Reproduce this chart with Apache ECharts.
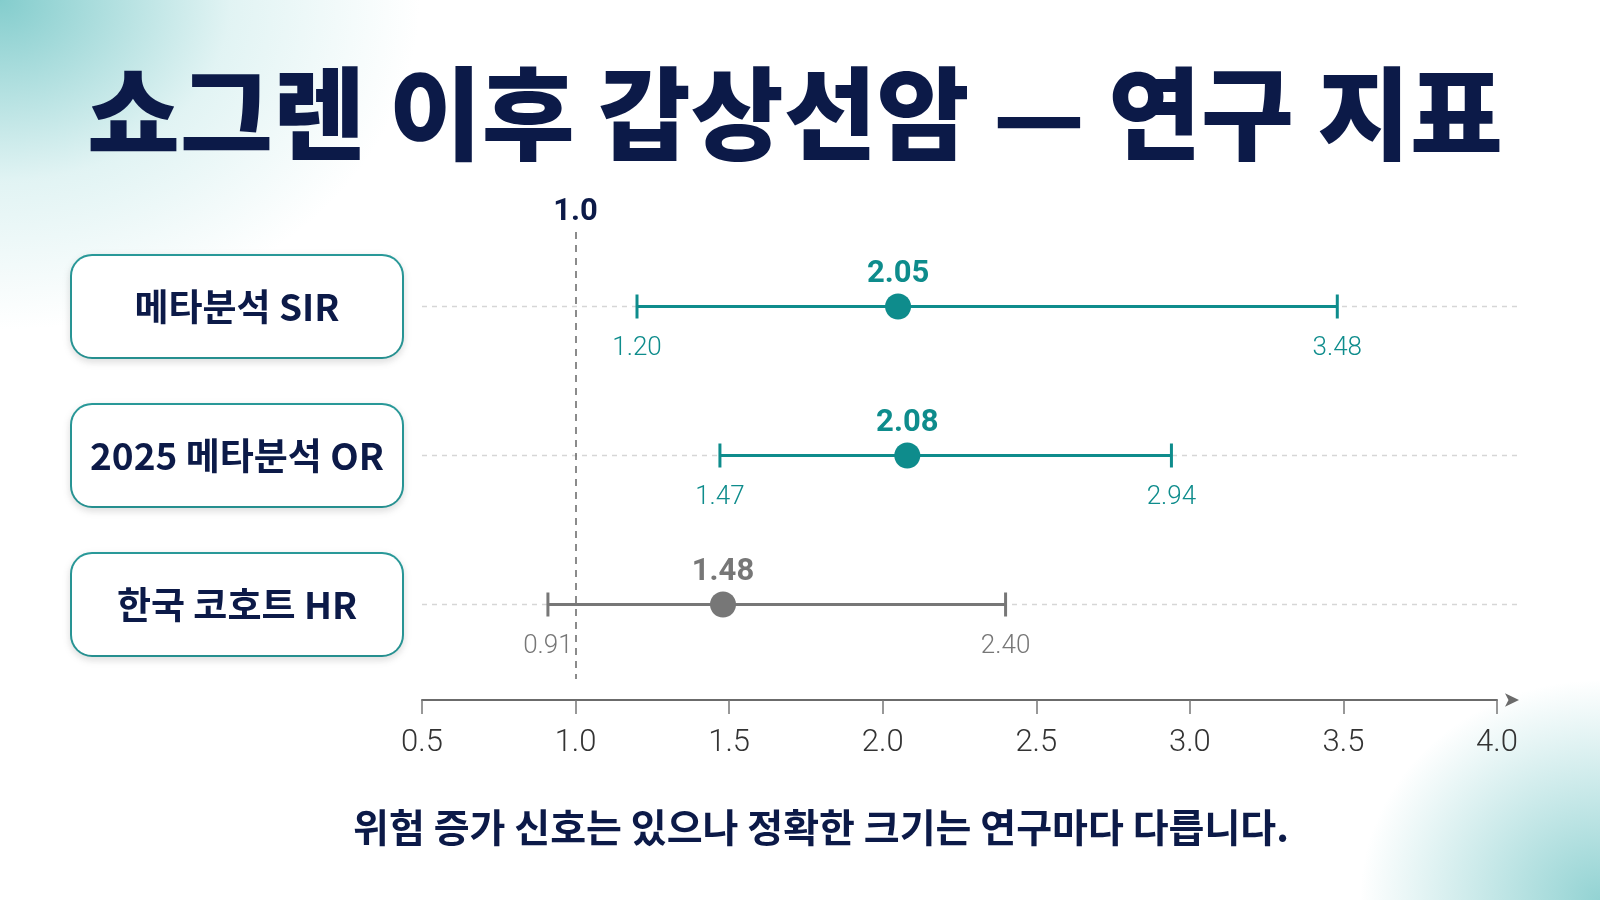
<!DOCTYPE html>
<html>
<head>
<meta charset="utf-8">
<script src="https://cdn.jsdelivr.net/npm/echarts@6/dist/echarts.min.js"></script>
<style>
  html, body {
    margin: 0;
    padding: 0;
    width: 1600px;
    height: 900px;
    overflow: hidden;
    background:
      radial-gradient(ellipse 420px 330px at 0px 0px, rgba(110,196,196,0.85), rgba(170,222,222,0.35) 55%, rgba(255,255,255,0) 100%),
      radial-gradient(ellipse 240px 220px at 1600px 900px, rgba(120,200,200,0.8), rgba(255,255,255,0) 100%),
      #ffffff;
  }
  #chart { width: 1600px; height: 900px; }
</style>
</head>
<body>
<div id="chart"></div>
<script>
// study labels and estimates with 95% CI, as printed in the chart
var studies = ['메타분석 SIR', '2025 메타분석 OR', '한국 코호트 HR'];
var estimates = [2.05, 2.08, 1.48];
var lowerCI = [1.20, 1.47, 0.91];
var upperCI = [3.48, 2.94, 2.40];
var xTicks = [0.5, 1.0, 1.5, 2.0, 2.5, 3.0, 3.5, 4.0];
var refLine = 1.0;

var rowColors = ['#0e8c8c', '#0e8c8c', '#777777'];
var navy = '#0c1a48';

var rows = studies.map(function (s, i) {
  return [i, lowerCI[i], estimates[i], upperCI[i]];
});

var chart = echarts.init(document.getElementById('chart'));

function renderBar(params, api) {
  var idx = api.value(0);
  var lo = api.coord([api.value(1), idx]);
  var mid = api.coord([api.value(2), idx]);
  var hi = api.coord([api.value(3), idx]);
  var cs = params.coordSys;
  var y = mid[1];
  var c = rowColors[idx];
  var cap = 12;
  return {
    type: 'group',
    children: [
      {
        type: 'line',
        shape: { x1: cs.x, y1: y, x2: cs.x + cs.width + 20, y2: y },
        style: { stroke: '#d6d6d6', lineWidth: 1.5, lineDash: [5, 5] },
        z2: 1
      },
      {
        type: 'line',
        shape: { x1: lo[0], y1: y, x2: hi[0], y2: y },
        style: { stroke: c, lineWidth: 3 },
        z2: 5
      },
      {
        type: 'line',
        shape: { x1: lo[0], y1: y - cap, x2: lo[0], y2: y + cap },
        style: { stroke: c, lineWidth: 3 },
        z2: 5
      },
      {
        type: 'line',
        shape: { x1: hi[0], y1: y - cap, x2: hi[0], y2: y + cap },
        style: { stroke: c, lineWidth: 3 },
        z2: 5
      },
      {
        type: 'circle',
        shape: { cx: mid[0], cy: y, r: 13 },
        style: { fill: c },
        z2: 6
      },
      {
        type: 'text',
        x: mid[0], y: y - 32,
        style: {
          text: api.value(2).toFixed(2), fill: c,
          font: 'bold 31px Roboto', align: 'center', verticalAlign: 'middle'
        },
        z2: 6
      },
      {
        type: 'text',
        x: lo[0], y: y + 42,
        style: {
          text: api.value(1).toFixed(2), fill: c,
          font: '300 26px Roboto', align: 'center', verticalAlign: 'middle'
        },
        z2: 6
      },
      {
        type: 'text',
        x: hi[0], y: y + 42,
        style: {
          text: api.value(3).toFixed(2), fill: c,
          font: '300 26px Roboto', align: 'center', verticalAlign: 'middle'
        },
        z2: 6
      }
    ]
  };
}

var option = {
  backgroundColor: 'transparent',
  animation: false,
  title: [
    {
      text: '쇼그렌 이후 갑상선암 — 연구 지표',
      left: 790, top: 58,
      textAlign: 'center',
      textStyle: {
        fontFamily: 'Noto Sans CJK KR', fontWeight: 900,
        fontSize: 101, color: navy
      }
    },
    {
      text: '위험 증가 신호는 있으나 정확한 크기는 연구마다 다릅니다.',
      left: 816, top: 803,
      textAlign: 'center',
      textStyle: {
        fontFamily: 'Noto Sans CJK KR', fontWeight: 'bold',
        fontSize: 39, color: navy
      }
    }
  ],
  grid: { left: 422, right: 103, top: 232, bottom: 221 },
  xAxis: {
    type: 'value',
    min: 0.5, max: 4.0, interval: 0.5,
    offset: 21,
    axisLine: {
      show: true,
      lineStyle: { color: '#6b6b6b', width: 2 },
      symbol: ['none', 'arrow'],
      symbolSize: [10, 14],
      symbolOffset: [0, 22]
    },
    axisTick: { show: true, length: 14, inside: false, lineStyle: { color: '#777', width: 1.5 } },
    axisLabel: {
      margin: 28,
      fontFamily: 'Roboto', fontWeight: 300, fontSize: 31, color: '#333',
      formatter: function (v) { return v.toFixed(1); },
      customValues: xTicks
    },
    splitLine: { show: false }
  },
  yAxis: {
    type: 'category',
    inverse: true,
    data: studies,
    axisLine: { show: false },
    axisTick: { show: false },
    splitLine: { show: false },
    axisLabel: {
      margin: 20,
      formatter: function (v) { return '{box|' + v + '}'; },
      rich: {
        box: {
          width: 330, height: 101, lineHeight: 101,
          align: 'center',
          fontFamily: 'Noto Sans CJK KR', fontWeight: 'bold',
          fontSize: 37, color: navy,
          backgroundColor: '#ffffff',
          borderColor: '#2a9c9c', borderWidth: 2, borderRadius: 20,
          shadowColor: 'rgba(0,0,0,0.12)', shadowBlur: 8, shadowOffsetY: 3
        }
      }
    }
  },
  series: [
    {
      type: 'custom',
      renderItem: renderBar,
      encode: { x: [1, 2, 3], y: 0 },
      data: rows,
      markLine: {
        silent: true,
        symbol: 'none',
        lineStyle: { color: '#666', type: [7, 6], width: 1.5 },
        label: {
          show: true, position: 'start', distance: 4,
          formatter: refLine.toFixed(1),
          fontFamily: 'Roboto', fontWeight: 'bold', fontSize: 31, color: navy
        },
        data: [{ xAxis: refLine }]
      }
    }
  ]
};

chart.setOption(option);
</script>
</body>
</html>
